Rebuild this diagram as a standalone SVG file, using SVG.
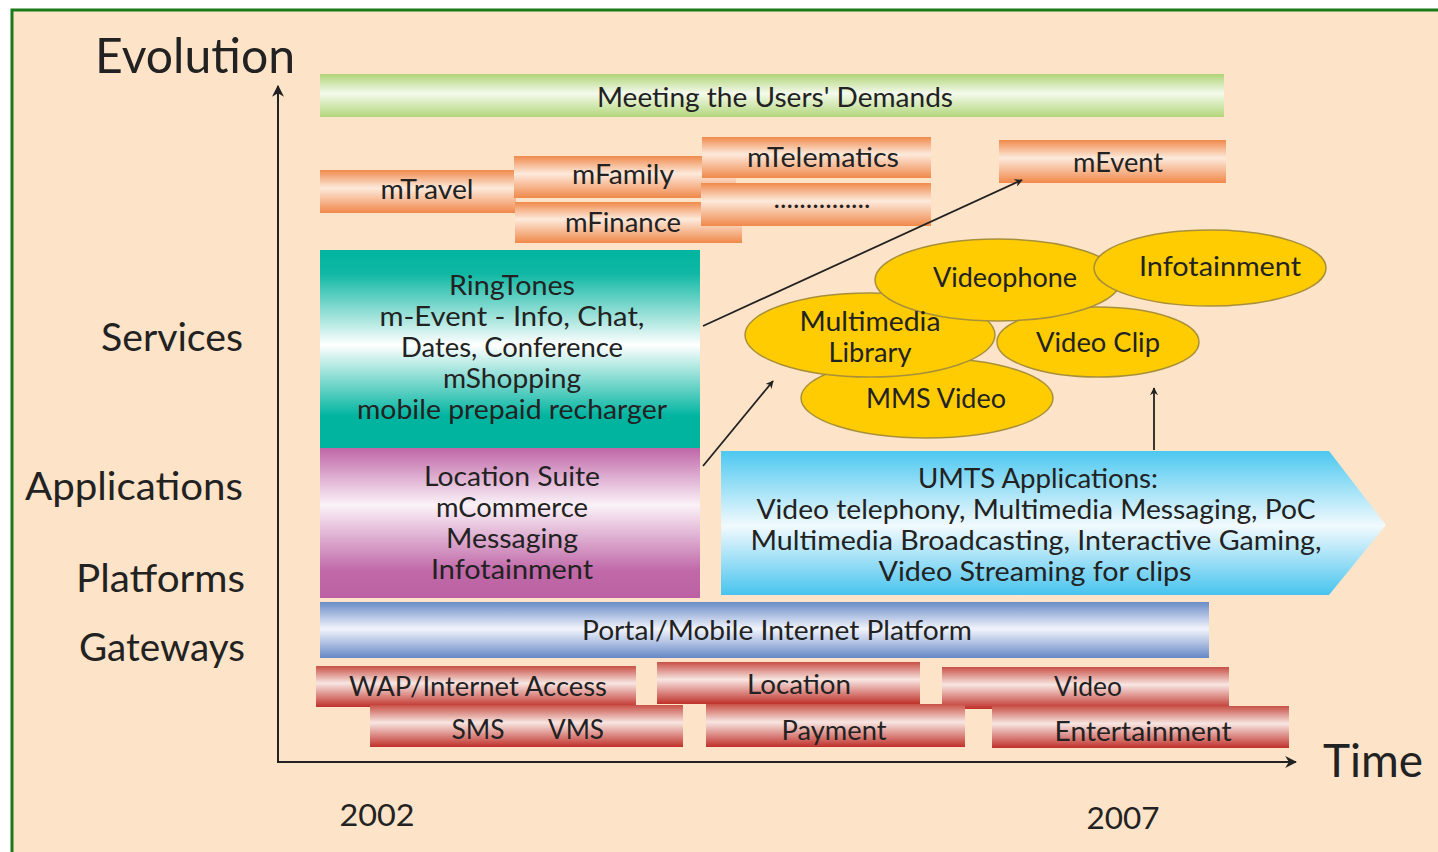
<svg xmlns="http://www.w3.org/2000/svg" width="1438" height="852" viewBox="0 0 1438 852">
<style>
text{font-family:"Lato","Liberation Sans",Arial,sans-serif;fill:#222;text-anchor:middle}
.ax{font-size:48px;text-anchor:start}
.lv{font-size:38px;text-anchor:end}
.bl{font-size:26px}
.el{font-size:27px}
.yr{font-size:31px}
.axis{stroke:#222;stroke-width:2;fill:none}
.con{stroke:#222;stroke-width:1.8;fill:none}
.ell{fill:#fecc00;stroke:#a8903a;stroke-width:1.5}
</style>
<defs>
<linearGradient id="gGreen" x1="0" y1="0" x2="0" y2="1">
<stop offset="0" stop-color="#b0d476"/><stop offset="0.45" stop-color="#f4faec"/><stop offset="1" stop-color="#b2d67a"/>
</linearGradient>
<linearGradient id="gOrange" x1="0" y1="0" x2="0" y2="1">
<stop offset="0" stop-color="#f08a4c"/><stop offset="0.42" stop-color="#fdeadc"/><stop offset="1" stop-color="#f0884a"/>
</linearGradient>
<linearGradient id="gTeal" x1="0" y1="0" x2="0" y2="1">
<stop offset="0" stop-color="#00b4a0"/><stop offset="0.12" stop-color="#10b8a4"/><stop offset="0.48" stop-color="#ffffff"/><stop offset="0.84" stop-color="#00b4a0"/><stop offset="1" stop-color="#00b4a0"/>
</linearGradient>
<linearGradient id="gPurple" x1="0" y1="0" x2="0" y2="1">
<stop offset="0" stop-color="#c066a8"/><stop offset="0.38" stop-color="#fbf2f8"/><stop offset="0.82" stop-color="#c068a8"/><stop offset="1" stop-color="#bc62a4"/>
</linearGradient>
<linearGradient id="gBlue" x1="0" y1="0" x2="0" y2="1">
<stop offset="0" stop-color="#6a8cc8"/><stop offset="0.48" stop-color="#f2f4fc"/><stop offset="1" stop-color="#6688c6"/>
</linearGradient>
<linearGradient id="gCyan" x1="0" y1="0" x2="0" y2="1">
<stop offset="0" stop-color="#4cc8f0"/><stop offset="0.52" stop-color="#f2fafe"/><stop offset="1" stop-color="#48c4ee"/>
</linearGradient>
<linearGradient id="gRed" x1="0" y1="0" x2="0" y2="1">
<stop offset="0" stop-color="#c85046"/><stop offset="0.42" stop-color="#f8e6e2"/><stop offset="1" stop-color="#c0302a"/>
</linearGradient>
<marker id="arr" viewBox="0 0 10 10" refX="9" refY="5" markerWidth="8" markerHeight="8" markerUnits="userSpaceOnUse" orient="auto">
<path d="M0,0 L10,5 L0,10 L3,5 z" fill="#222"/>
</marker>
<marker id="arrB" viewBox="0 0 10 10" refX="9" refY="5" markerWidth="12" markerHeight="12" markerUnits="userSpaceOnUse" orient="auto">
<path d="M0,0 L10,5 L0,10 L3,5 z" fill="#222"/>
</marker>
</defs>
<rect x="0" y="0" width="1438" height="852" fill="#ffffff"/>
<rect x="12" y="10" width="1450" height="860" fill="#fde3c8" stroke="#1a7a1a" stroke-width="3"/>

<g id="axes">
<line class="axis" x1="278" y1="763" x2="278" y2="86" marker-end="url(#arrB)"/>
<line class="axis" x1="277" y1="762" x2="1296" y2="762" marker-end="url(#arrB)"/>
<text class="ax" x="95" y="73" textLength="200" lengthAdjust="spacingAndGlyphs">Evolution</text>
<text class="ax" x="1323" y="777" style="font-size:46px" textLength="100" lengthAdjust="spacingAndGlyphs">Time</text>
<text class="yr" x="377" y="826" textLength="75" lengthAdjust="spacingAndGlyphs">2002</text>
<text class="yr" x="1123" y="829" textLength="73" lengthAdjust="spacingAndGlyphs">2007</text>
<text class="lv" x="243" y="351" textLength="142" lengthAdjust="spacingAndGlyphs">Services</text>
<text class="lv" x="243" y="500" textLength="218" lengthAdjust="spacingAndGlyphs">Applications</text>
<text class="lv" x="245" y="592" textLength="169" lengthAdjust="spacingAndGlyphs">Platforms</text>
<text class="lv" x="245" y="661" textLength="166" lengthAdjust="spacingAndGlyphs">Gateways</text>
</g>

<g id="demands">
<rect x="320" y="74" width="904" height="43" fill="url(#gGreen)"/>
<text class="bl" x="775" y="107" textLength="356" lengthAdjust="spacingAndGlyphs">Meeting the Users' Demands</text>
</g>

<g id="mTravel">
<rect x="320" y="170" width="196" height="43" fill="url(#gOrange)"/>
<text class="bl" x="427" y="199" textLength="93" lengthAdjust="spacingAndGlyphs">mTravel</text>
</g>
<g id="mFamily">
<rect x="514" y="156" width="222" height="42" fill="url(#gOrange)"/>
<text class="bl" x="623" y="184" textLength="102" lengthAdjust="spacingAndGlyphs">mFamily</text>
</g>
<g id="mFinance">
<rect x="515" y="202" width="227" height="41" fill="url(#gOrange)"/>
<text class="bl" x="623" y="232" textLength="116" lengthAdjust="spacingAndGlyphs">mFinance</text>
</g>
<g id="mTelematics">
<rect x="702" y="137" width="229" height="41" fill="url(#gOrange)"/>
<text class="bl" x="823" y="167" textLength="152" lengthAdjust="spacingAndGlyphs">mTelematics</text>
</g>
<g id="more">
<rect x="701" y="183" width="230" height="43" fill="url(#gOrange)"/>
<text class="bl" x="822" y="208" textLength="97" lengthAdjust="spacingAndGlyphs">...............</text>
</g>
<g id="mEvent">
<rect x="999" y="140" width="227" height="43" fill="url(#gOrange)"/>
<text class="bl" x="1118" y="172" textLength="90" lengthAdjust="spacingAndGlyphs">mEvent</text>
</g>

<g id="services-block">
<rect x="320" y="250" width="380" height="198" fill="url(#gTeal)"/>
<text class="bl" x="512" y="295" textLength="126" lengthAdjust="spacingAndGlyphs">RingTones</text>
<text class="bl" x="512" y="326" textLength="265" lengthAdjust="spacingAndGlyphs">m-Event - Info, Chat,</text>
<text class="bl" x="512" y="357" textLength="222" lengthAdjust="spacingAndGlyphs">Dates, Conference</text>
<text class="bl" x="512" y="388" textLength="138" lengthAdjust="spacingAndGlyphs">mShopping</text>
<text class="bl" x="512" y="419" textLength="310" lengthAdjust="spacingAndGlyphs">mobile prepaid recharger</text>
</g>

<g id="applications-block">
<rect x="320" y="448" width="380" height="150" fill="url(#gPurple)"/>
<text class="bl" x="512" y="486" textLength="176" lengthAdjust="spacingAndGlyphs">Location Suite</text>
<text class="bl" x="512" y="517" textLength="152" lengthAdjust="spacingAndGlyphs">mCommerce</text>
<text class="bl" x="512" y="548" textLength="132" lengthAdjust="spacingAndGlyphs">Messaging</text>
<text class="bl" x="512" y="579" textLength="162" lengthAdjust="spacingAndGlyphs">Infotainment</text>
</g>

<g id="umts">
<polygon points="721,451 1329,451 1386,525 1329,595 721,595" fill="url(#gCyan)"/>
<text class="bl" x="1038" y="488" textLength="240" lengthAdjust="spacingAndGlyphs">UMTS Applications:</text>
<text class="bl" x="1036" y="519" textLength="559" lengthAdjust="spacingAndGlyphs">Video telephony, Multimedia Messaging, PoC</text>
<text class="bl" x="1036" y="550" textLength="571" lengthAdjust="spacingAndGlyphs">Multimedia Broadcasting, Interactive Gaming,</text>
<text class="bl" x="1035" y="581" textLength="313" lengthAdjust="spacingAndGlyphs">Video Streaming for clips</text>
</g>

<g id="portal">
<rect x="320" y="602" width="889" height="56" fill="url(#gBlue)"/>
<text class="bl" x="777" y="640" textLength="390" lengthAdjust="spacingAndGlyphs">Portal/Mobile Internet Platform</text>
</g>

<g id="wap">
<rect x="316" y="666" width="320" height="41" fill="url(#gRed)"/>
<text class="bl" x="478" y="696" textLength="258" lengthAdjust="spacingAndGlyphs">WAP/Internet Access</text>
</g>
<g id="location">
<rect x="657" y="662" width="263" height="42" fill="url(#gRed)"/>
<text class="bl" x="799" y="694" textLength="104" lengthAdjust="spacingAndGlyphs">Location</text>
</g>
<g id="video">
<rect x="942" y="667" width="287" height="42" fill="url(#gRed)"/>
<text class="bl" x="1088" y="696" textLength="68" lengthAdjust="spacingAndGlyphs">Video</text>
</g>
<g id="smsvms">
<rect x="370" y="705" width="313" height="42" fill="url(#gRed)"/>
<text class="bl" x="478" y="739" textLength="53" lengthAdjust="spacingAndGlyphs">SMS</text>
<text class="bl" x="576" y="739" textLength="56" lengthAdjust="spacingAndGlyphs">VMS</text>
</g>
<g id="payment">
<rect x="706" y="704" width="259" height="43" fill="url(#gRed)"/>
<text class="bl" x="834" y="740" textLength="105" lengthAdjust="spacingAndGlyphs">Payment</text>
</g>
<g id="entertainment">
<rect x="992" y="706" width="297" height="42" fill="url(#gRed)"/>
<text class="bl" x="1143" y="741" textLength="177" lengthAdjust="spacingAndGlyphs">Entertainment</text>
</g>

<g id="mmsvideo">
<ellipse class="ell" cx="927" cy="398" rx="126" ry="40"/>
</g>
<g id="multimedia">
<ellipse class="ell" cx="870" cy="335" rx="125" ry="42"/>
</g>
<g id="videoclip">
<ellipse class="ell" cx="1098" cy="342" rx="101" ry="35"/>
</g>
<g id="videophone">
<ellipse class="ell" cx="998" cy="280" rx="123" ry="41"/>
</g>
<g id="infotainment">
<ellipse class="ell" cx="1210" cy="268" rx="116" ry="38"/>
</g>
<g id="ellipse-labels">
<text class="el" x="936" y="408" textLength="140" lengthAdjust="spacingAndGlyphs">MMS Video</text>
<text class="el" x="870" y="331" textLength="141" lengthAdjust="spacingAndGlyphs">Multimedia</text>
<text class="el" x="870" y="362" textLength="83" lengthAdjust="spacingAndGlyphs">Library</text>
<text class="el" x="1098" y="352" textLength="124" lengthAdjust="spacingAndGlyphs">Video Clip</text>
<text class="el" x="1005" y="287" textLength="144" lengthAdjust="spacingAndGlyphs">Videophone</text>
<text class="el" x="1220" y="276" textLength="162" lengthAdjust="spacingAndGlyphs">Infotainment</text>
</g>

<g id="connectors">
<line class="con" x1="703" y1="326" x2="1022" y2="180" marker-end="url(#arr)"/>
<line class="con" x1="703" y1="466" x2="773" y2="381" marker-end="url(#arr)"/>
<line class="con" x1="1154" y1="450" x2="1154" y2="388" marker-end="url(#arr)"/>
</g>
</svg>
